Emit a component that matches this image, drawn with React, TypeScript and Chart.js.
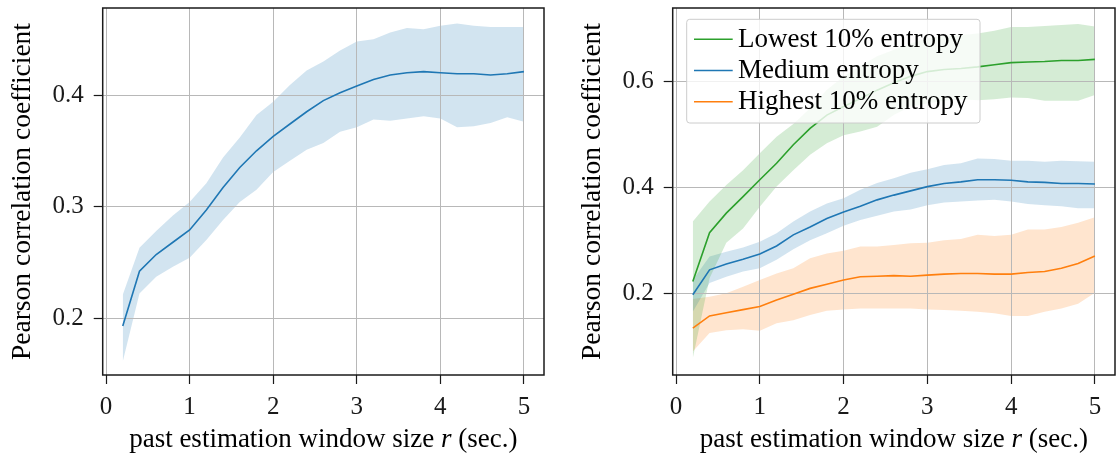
import React, { useEffect, useRef } from "react";
import { Chart, registerables } from "chart.js";

Chart.register(...registerables);

// ---------- data ----------
const windowSizes = [0.2, 0.4, 0.6, 0.8, 1.0, 1.2, 1.4, 1.6, 1.8, 2.0, 2.2, 2.4, 2.6, 2.8, 3.0, 3.2, 3.4, 3.6, 3.8, 4.0, 4.2, 4.4, 4.6, 4.8, 5.0];

const allMean = [0.193, 0.242, 0.257, 0.268, 0.279, 0.297, 0.317, 0.335, 0.350, 0.363, 0.374, 0.385, 0.395, 0.402, 0.408, 0.414, 0.418, 0.420, 0.421, 0.420, 0.419, 0.419, 0.418, 0.419, 0.421];
const allUpper = [0.221, 0.263, 0.278, 0.292, 0.304, 0.321, 0.344, 0.362, 0.382, 0.394, 0.409, 0.422, 0.430, 0.440, 0.448, 0.450, 0.456, 0.460, 0.459, 0.462, 0.464, 0.462, 0.461, 0.461, 0.461];
const allLower = [0.161, 0.222, 0.237, 0.246, 0.254, 0.270, 0.288, 0.304, 0.315, 0.331, 0.341, 0.351, 0.357, 0.367, 0.371, 0.378, 0.377, 0.379, 0.381, 0.379, 0.371, 0.372, 0.375, 0.380, 0.376];

const lowMean = [0.223, 0.315, 0.352, 0.383, 0.415, 0.446, 0.481, 0.512, 0.537, 0.553, 0.568, 0.584, 0.598, 0.610, 0.619, 0.623, 0.625, 0.628, 0.632, 0.636, 0.637, 0.638, 0.640, 0.640, 0.642];
const lowUpper = [0.336, 0.374, 0.405, 0.433, 0.465, 0.496, 0.520, 0.550, 0.585, 0.610, 0.630, 0.648, 0.660, 0.672, 0.682, 0.686, 0.688, 0.691, 0.696, 0.703, 0.703, 0.705, 0.707, 0.709, 0.704];
const lowLower = [0.078, 0.229, 0.296, 0.323, 0.364, 0.402, 0.433, 0.462, 0.484, 0.499, 0.506, 0.515, 0.537, 0.553, 0.559, 0.564, 0.567, 0.565, 0.567, 0.570, 0.569, 0.564, 0.564, 0.564, 0.575];

const medMean = [0.198, 0.245, 0.256, 0.265, 0.275, 0.290, 0.311, 0.326, 0.342, 0.354, 0.365, 0.377, 0.386, 0.394, 0.402, 0.408, 0.411, 0.415, 0.415, 0.414, 0.411, 0.410, 0.408, 0.408, 0.407];
const medUpper = [0.226, 0.270, 0.279, 0.287, 0.298, 0.314, 0.336, 0.355, 0.370, 0.380, 0.396, 0.409, 0.418, 0.428, 0.435, 0.443, 0.446, 0.455, 0.454, 0.451, 0.451, 0.449, 0.451, 0.450, 0.449];
const medLower = [0.166, 0.220, 0.232, 0.242, 0.248, 0.264, 0.284, 0.301, 0.314, 0.328, 0.339, 0.347, 0.355, 0.359, 0.367, 0.372, 0.374, 0.376, 0.377, 0.374, 0.369, 0.367, 0.365, 0.361, 0.361];

const highMean = [0.135, 0.158, 0.164, 0.170, 0.176, 0.188, 0.199, 0.210, 0.218, 0.226, 0.232, 0.233, 0.234, 0.233, 0.235, 0.237, 0.238, 0.238, 0.237, 0.237, 0.240, 0.242, 0.248, 0.257, 0.271];
const highUpper = [0.190, 0.194, 0.201, 0.213, 0.226, 0.238, 0.248, 0.267, 0.276, 0.281, 0.289, 0.289, 0.292, 0.295, 0.296, 0.301, 0.303, 0.311, 0.309, 0.311, 0.321, 0.321, 0.326, 0.334, 0.344];
const highLower = [0.091, 0.126, 0.131, 0.133, 0.130, 0.144, 0.150, 0.160, 0.168, 0.170, 0.172, 0.172, 0.172, 0.172, 0.170, 0.169, 0.168, 0.166, 0.163, 0.158, 0.158, 0.166, 0.172, 0.181, 0.202];

const xTicks = [0, 1, 2, 3, 4, 5];
const yTicksLeft = [0.2, 0.3, 0.4];
const yTicksRight = [0.2, 0.4, 0.6];

const seriesLabels = ["Lowest 10% entropy", "Medium entropy", "Highest 10% entropy"];
const seriesColors = ["#2ca02c", "#1f77b4", "#ff7f0e"];
const seriesFills = ["rgba(44,160,44,0.2)", "rgba(31,119,180,0.2)", "rgba(255,127,14,0.2)"];

// x label pieces: [text, italic]
const xLabelParts: [string, boolean][] = [["past estimation window size ", false], ["r", true], [" (sec.)", false]];
const yLabel = "Pearson correlation coefficient";

// ---------- helpers ----------
const FONT = "'Liberation Serif', 'Times New Roman', serif";

function pts(ys: number[]) {
  return windowSizes.map((x, i) => ({ x, y: ys[i] }));
}

function bandDatasets(mean: number[], lower: number[], upper: number[], color: string, fill: string, label: string) {
  return [
    { label: label + " upper", data: pts(upper), borderWidth: 0, pointRadius: 0, backgroundColor: fill, fill: "+1", order: 2 },
    { label: label + " lower", data: pts(lower), borderWidth: 0, pointRadius: 0, backgroundColor: fill, fill: false, order: 2 },
    { label, data: pts(mean), borderColor: color, borderWidth: 1.6, pointRadius: 0, fill: false, order: 0, tension: 0 },
  ];
}

const framePlugin = {
  id: "frame",
  afterDraw(chart: any) {
    const { ctx, chartArea } = chart;
    ctx.save();
    ctx.strokeStyle = "#1a1a1a";
    ctx.lineWidth = 1.5;
    ctx.strokeRect(chartArea.left, chartArea.top, chartArea.right - chartArea.left, chartArea.bottom - chartArea.top);
    // x axis title with italic r
    const fs = 27;
    const fonts = xLabelParts.map(([, it]) => (it ? "italic " : "") + fs + "px " + FONT);
    let total = 0;
    const widths = xLabelParts.map(([t], i) => {
      ctx.font = fonts[i];
      const w = ctx.measureText(t).width;
      total += w;
      return w;
    });
    let x = (chartArea.left + chartArea.right) / 2 - total / 2;
    ctx.fillStyle = "#000";
    ctx.textBaseline = "alphabetic";
    ctx.textAlign = "left";
    xLabelParts.forEach(([t], i) => {
      ctx.font = fonts[i];
      ctx.fillText(t, x, 447);
      x += widths[i];
    });
    ctx.restore();
  },
};

const legendPlugin = {
  id: "overlayLegend",
  afterDatasetsDraw(chart: any) {
    const { ctx, chartArea } = chart;
    const x = chartArea.left + 14;
    const y = chartArea.top + 11.3;
    const w = 293.3;
    const h = 103.7;
    ctx.save();
    ctx.beginPath();
    const r = 3;
    ctx.moveTo(x + r, y);
    ctx.lineTo(x + w - r, y);
    ctx.quadraticCurveTo(x + w, y, x + w, y + r);
    ctx.lineTo(x + w, y + h - r);
    ctx.quadraticCurveTo(x + w, y + h, x + w - r, y + h);
    ctx.lineTo(x + r, y + h);
    ctx.quadraticCurveTo(x, y + h, x, y + h - r);
    ctx.lineTo(x, y + r);
    ctx.quadraticCurveTo(x, y, x + r, y);
    ctx.closePath();
    ctx.fillStyle = "rgba(255,255,255,0.8)";
    ctx.fill();
    ctx.strokeStyle = "#cccccc";
    ctx.lineWidth = 1;
    ctx.stroke();
    ctx.font = "27px " + FONT;
    ctx.textBaseline = "alphabetic";
    ctx.fillStyle = "#000";
    seriesLabels.forEach((lab, i) => {
      const base = y + 27.4 + i * 31.2;
      const mid = y + 20 + i * 31.2;
      ctx.strokeStyle = seriesColors[i];
      ctx.lineWidth = 1.6;
      ctx.beginPath();
      ctx.moveTo(x + 7.3, mid);
      ctx.lineTo(x + 46, mid);
      ctx.stroke();
      ctx.fillText(lab, x + 51.3, base);
    });
    ctx.restore();
  },
};

function makeOptions(yMin: number, yMax: number, yTicks: number[], padRight: number) {
  return {
    responsive: false,
    animation: false as const,
    layout: { padding: { top: 8, right: padRight, left: 0, bottom: 0 } },
    plugins: {
      legend: { display: false },
      tooltip: { enabled: false },
      filler: { drawTime: "beforeDraw" },
    },
    scales: {
      x: {
        type: "linear",
        min: -0.04,
        max: 5.24,
        afterBuildTicks: (s: any) => { s.ticks = xTicks.map((v) => ({ value: v })); },
        afterFit: (s: any) => { s.height = 81; s.paddingLeft = 0; s.paddingRight = 0; s.paddingTop = 0; s.paddingBottom = 0; },
        grid: { color: "#b8b8b8", lineWidth: 1, drawTicks: true, tickLength: 9, tickColor: "#1a1a1a", tickWidth: 1.2 },
        border: { display: false },
        ticks: { font: { family: FONT, size: 25 }, color: "#1a1a1a", padding: 8, maxRotation: 0, autoSkip: false, callback: (v: any) => String(v) },
        title: { display: false },
      },
      y: {
        type: "linear",
        min: yMin,
        max: yMax,
        afterBuildTicks: (s: any) => { s.ticks = yTicks.map((v) => ({ value: v })); },
        afterFit: (s: any) => { s.width = 102.7; s.paddingLeft = 0; s.paddingRight = 0; s.paddingTop = 0; s.paddingBottom = 0; },
        grid: { color: "#b8b8b8", lineWidth: 1, drawTicks: true, tickLength: 9, tickColor: "#1a1a1a", tickWidth: 1.2 },
        border: { display: false },
        ticks: { font: { family: FONT, size: 25 }, color: "#1a1a1a", padding: 10, autoSkip: false, callback: (v: any) => Number(v).toFixed(1) },
        title: { display: true, text: yLabel, font: { family: FONT, size: 27.5 }, color: "#000", padding: { top: 6, bottom: 0 } },
      },
    },
  };
}

export default function App() {
  const leftRef = useRef<HTMLCanvasElement>(null);
  const rightRef = useRef<HTMLCanvasElement>(null);

  useEffect(() => {
    const left = new Chart(leftRef.current!, {
      type: "line",
      data: { datasets: bandDatasets(allMean, allLower, allUpper, "#1f77b4", "rgba(31,119,180,0.2)", "All") as any },
      options: makeOptions(0.149, 0.478, yTicksLeft, 14) as any,
      plugins: [framePlugin],
    });
    const right = new Chart(rightRef.current!, {
      type: "line",
      data: {
        datasets: [
          ...bandDatasets(lowMean, lowLower, lowUpper, seriesColors[0], seriesFills[0], seriesLabels[0]),
          ...bandDatasets(medMean, medLower, medUpper, seriesColors[1], seriesFills[1], seriesLabels[1]),
          ...bandDatasets(highMean, highLower, highUpper, seriesColors[2], seriesFills[2], seriesLabels[2]),
        ] as any,
      },
      options: makeOptions(0.0466, 0.739, yTicksRight, 1) as any,
      plugins: [legendPlugin, framePlugin],
    });
    return () => {
      left.destroy();
      right.destroy();
    };
  }, []);

  return (
    <div style={{ position: "absolute", left: 0, top: 0, width: 1116, height: 456, background: "#fff" }}>
      <canvas ref={leftRef} width={558} height={456} style={{ position: "absolute", left: 0, top: 0, width: 558, height: 456 }} />
      <canvas ref={rightRef} width={546} height={456} style={{ position: "absolute", left: 570, top: 0, width: 546, height: 456 }} />
    </div>
  );
}
